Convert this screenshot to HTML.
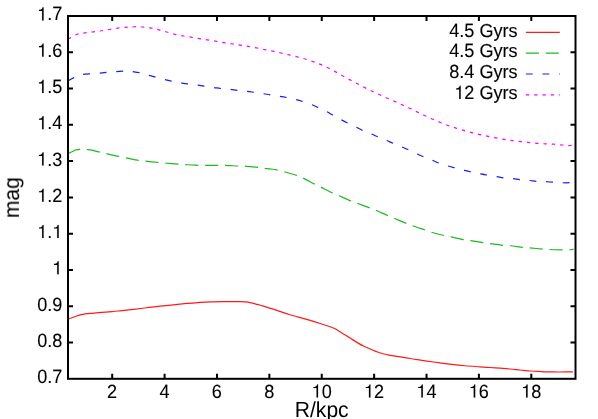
<!DOCTYPE html>
<html><head><meta charset="utf-8"><title>plot</title>
<style>
html,body{margin:0;padding:0;background:#fff;}
body{width:598px;height:419px;overflow:hidden;}
svg{display:block;}
text{font-family:"Liberation Sans",sans-serif;fill:#000;text-rendering:geometricPrecision;}
tspan.h{fill:none;stroke:none;}
</style></head><body>
<svg width="598" height="419" viewBox="0 0 598 419">
<defs><mask id="m" maskUnits="userSpaceOnUse" x="0" y="0" width="598" height="419"><rect x="0" y="0" width="598" height="419" fill="#fff"/></mask></defs>
<rect x="0" y="0" width="598" height="419" fill="#fff"/>
<g fill="none" stroke-width="1.2" stroke-linecap="butt" stroke-linejoin="round">
<path d="M68.00,319.10 C69.33,318.63 73.67,317.08 76.00,316.30 C78.33,315.52 80.50,314.84 82.00,314.45 C83.50,314.06 83.33,314.14 85.00,313.95 C86.67,313.76 89.17,313.55 92.00,313.30 C94.83,313.05 98.63,312.73 102.00,312.45 C105.37,312.17 109.20,311.88 112.20,311.60 C115.20,311.33 116.47,311.18 120.00,310.80 C123.53,310.43 128.94,309.86 133.40,309.35 C137.86,308.84 142.30,308.28 146.75,307.75 C151.20,307.22 155.64,306.64 160.10,306.15 C164.56,305.66 169.03,305.25 173.50,304.80 C177.97,304.35 182.48,303.87 186.90,303.45 C191.32,303.03 196.15,302.55 200.00,302.30 C203.85,302.05 206.55,302.07 210.00,301.95 C213.45,301.83 215.57,301.66 220.70,301.60 C225.83,301.54 236.58,301.54 240.80,301.60 C245.02,301.66 244.45,301.77 246.00,301.95 C247.55,302.12 248.43,302.29 250.10,302.65 C251.77,303.01 253.77,303.52 256.00,304.10 C258.23,304.68 260.02,305.10 263.50,306.15 C266.98,307.20 272.48,308.97 276.90,310.40 C281.32,311.82 285.02,313.19 290.00,314.70 C294.98,316.21 301.78,317.98 306.80,319.45 C311.82,320.92 315.65,322.07 320.10,323.50 C324.55,324.93 330.60,326.89 333.50,328.00 C336.40,329.11 335.27,328.82 337.50,330.15 C339.73,331.48 344.82,334.69 346.90,336.00 C348.98,337.31 347.25,336.32 350.00,338.00 C352.75,339.68 358.93,343.77 363.40,346.05 C367.87,348.33 373.37,350.38 376.80,351.70 C380.23,353.02 382.00,353.43 384.00,354.00 C386.00,354.57 387.13,354.82 388.80,355.15 C390.47,355.47 391.55,355.59 394.00,355.95 C396.45,356.31 399.68,356.68 403.50,357.30 C407.32,357.93 413.32,359.12 416.90,359.70 C420.48,360.28 421.42,360.31 425.00,360.80 C428.58,361.29 433.94,362.05 438.40,362.65 C442.86,363.25 447.30,363.88 451.75,364.40 C456.20,364.92 460.39,365.35 465.10,365.75 C469.81,366.15 475.85,366.51 480.00,366.80 C484.15,367.09 486.65,367.27 490.00,367.50 C493.35,367.73 496.75,367.95 500.10,368.20 C503.45,368.45 506.77,368.70 510.10,369.00 C513.43,369.30 516.75,369.67 520.10,370.00 C523.45,370.33 526.88,370.75 530.20,371.00 C533.52,371.25 536.12,371.34 540.00,371.50 C543.88,371.66 549.02,371.88 553.50,371.95 C557.98,372.02 563.67,371.97 566.90,371.95 C570.13,371.93 571.90,371.82 572.90,371.80" stroke="#ff1a1a"/>
<path d="M68.00,153.70 C68.67,153.37 70.75,152.32 72.00,151.70 C73.25,151.08 74.58,150.36 75.50,150.00 C76.42,149.64 76.73,149.67 77.50,149.55 C78.27,149.43 79.18,149.37 80.10,149.30 C81.02,149.23 81.88,149.12 83.00,149.15 C84.12,149.18 85.62,149.38 86.80,149.50 C87.98,149.62 87.92,149.47 90.10,149.90 C92.28,150.33 97.23,151.48 99.90,152.10 C102.57,152.72 103.58,153.01 106.10,153.60 C108.62,154.19 112.85,155.17 115.00,155.65 C117.15,156.13 117.22,156.14 119.00,156.50 C120.78,156.86 122.40,157.13 125.70,157.80 C129.00,158.47 135.52,159.94 138.80,160.50 C142.08,161.06 142.08,160.82 145.40,161.15 C148.72,161.48 155.45,162.19 158.75,162.50 C162.05,162.81 161.97,162.72 165.20,163.00 C168.43,163.28 174.88,163.93 178.15,164.20 C181.42,164.47 181.99,164.43 184.80,164.60 C187.61,164.77 191.63,165.06 195.00,165.20 C198.37,165.34 201.15,165.41 205.00,165.45 C208.85,165.49 214.76,165.45 218.10,165.45 C221.44,165.45 221.75,165.36 225.05,165.45 C228.35,165.54 234.60,165.88 237.90,166.00 C241.20,166.12 241.53,165.93 244.85,166.15 C248.17,166.38 254.50,166.99 257.80,167.35 C261.10,167.71 262.62,168.04 264.65,168.30 C266.68,168.56 267.81,168.60 270.00,168.90 C272.19,169.20 275.46,169.63 277.80,170.10 C280.14,170.57 280.89,170.81 284.05,171.70 C287.21,172.59 293.56,174.38 296.75,175.45 C299.94,176.52 300.19,176.70 303.20,178.15 C306.21,179.60 311.87,182.66 314.80,184.15 C317.73,185.64 317.78,185.58 320.80,187.10 C323.82,188.62 329.90,191.82 332.90,193.25 C335.90,194.68 335.77,194.35 338.80,195.65 C341.83,196.95 348.00,199.79 351.05,201.05 C354.10,202.31 353.93,202.04 357.10,203.20 C360.27,204.36 366.93,206.84 370.05,208.00 C373.17,209.16 372.79,208.85 375.80,210.15 C378.81,211.45 385.05,214.46 388.10,215.80 C391.15,217.14 391.03,216.92 394.10,218.20 C397.17,219.47 403.42,222.18 406.50,223.45 C409.58,224.72 409.51,224.70 412.60,225.80 C415.69,226.90 421.93,228.98 425.05,230.05 C428.18,231.12 428.16,231.28 431.35,232.20 C434.54,233.12 440.90,234.77 444.20,235.55 C447.50,236.33 447.88,236.21 451.15,236.90 C454.42,237.59 460.62,239.07 463.85,239.70 C467.08,240.32 467.25,240.14 470.55,240.65 C473.85,241.16 480.38,242.24 483.65,242.75 C486.92,243.26 486.99,243.27 490.20,243.70 C493.41,244.12 499.60,244.96 502.90,245.30 C506.20,245.64 506.65,245.41 510.00,245.75 C513.35,246.09 519.70,246.99 523.00,247.35 C526.30,247.71 526.50,247.61 529.80,247.90 C533.10,248.19 539.47,248.83 542.80,249.10 C546.12,249.37 546.45,249.37 549.75,249.50 C553.05,249.63 559.34,249.86 562.60,249.90 C565.86,249.94 567.47,249.84 569.30,249.75 C571.13,249.66 572.88,249.42 573.60,249.35" stroke="#1fb91f" stroke-dasharray="13.100 6.820"/>
<path d="M68.00,80.85 C69.00,80.31 72.40,78.46 74.00,77.60 C75.60,76.74 76.68,76.12 77.60,75.70 C78.52,75.28 78.62,75.32 79.50,75.10 C80.38,74.88 81.15,74.62 82.90,74.40 C84.65,74.18 87.32,73.97 90.00,73.75 C92.68,73.53 96.33,73.32 99.00,73.10 C101.67,72.88 103.17,72.71 106.00,72.45 C108.83,72.19 113.20,71.77 116.00,71.55 C118.80,71.33 120.88,71.23 122.80,71.15 C124.72,71.08 125.87,71.02 127.50,71.10 C129.13,71.18 130.63,71.39 132.60,71.65 C134.57,71.91 136.58,72.03 139.30,72.65 C142.02,73.27 146.27,74.65 148.90,75.35 C151.53,76.05 152.43,76.13 155.10,76.85 C157.77,77.57 162.23,78.93 164.95,79.65 C167.67,80.37 168.71,80.61 171.40,81.15 C174.09,81.69 178.37,82.43 181.10,82.90 C183.83,83.37 185.07,83.60 187.80,83.95 C190.53,84.30 194.78,84.62 197.50,85.00 C200.22,85.38 201.37,85.78 204.10,86.20 C206.83,86.62 211.10,87.17 213.90,87.55 C216.70,87.93 218.18,88.19 220.90,88.50 C223.62,88.81 227.48,89.10 230.20,89.40 C232.92,89.70 234.41,89.98 237.20,90.30 C239.99,90.62 244.18,90.97 246.95,91.30 C249.72,91.62 251.06,91.85 253.80,92.25 C256.54,92.65 260.68,93.28 263.40,93.70 C266.12,94.12 267.35,94.37 270.10,94.80 C272.85,95.23 277.16,95.85 279.90,96.30 C282.64,96.75 283.83,96.95 286.55,97.50 C289.27,98.05 293.52,98.93 296.20,99.60 C298.88,100.27 299.97,100.63 302.60,101.50 C305.23,102.37 309.43,103.82 312.00,104.80 C314.57,105.78 315.53,106.26 318.00,107.40 C320.47,108.54 324.33,110.37 326.80,111.65 C329.27,112.93 330.38,113.74 332.80,115.10 C335.23,116.46 338.90,118.48 341.35,119.80 C343.80,121.12 345.02,121.78 347.50,123.00 C349.98,124.22 353.70,125.92 356.20,127.15 C358.70,128.38 360.00,129.28 362.50,130.40 C365.00,131.52 368.63,132.78 371.20,133.85 C373.77,134.92 375.32,135.75 377.90,136.85 C380.48,137.95 384.18,139.38 386.70,140.45 C389.22,141.52 390.48,142.18 393.00,143.25 C395.52,144.32 399.23,145.76 401.80,146.85 C404.37,147.94 405.90,148.64 408.40,149.80 C410.90,150.96 414.28,152.64 416.80,153.80 C419.32,154.96 420.93,155.70 423.50,156.75 C426.07,157.80 429.63,159.05 432.20,160.10 C434.77,161.15 436.27,162.07 438.90,163.05 C441.53,164.03 445.37,165.21 448.00,166.00 C450.63,166.79 452.02,167.10 454.70,167.80 C457.38,168.50 461.42,169.53 464.10,170.20 C466.78,170.87 468.08,171.20 470.80,171.80 C473.52,172.40 477.73,173.27 480.40,173.80 C483.07,174.33 484.06,174.53 486.80,175.00 C489.54,175.47 494.07,176.13 496.85,176.60 C499.63,177.07 500.78,177.46 503.50,177.80 C506.22,178.14 510.40,178.35 513.15,178.65 C515.90,178.95 517.23,179.29 520.00,179.60 C522.77,179.91 527.01,180.20 529.80,180.50 C532.59,180.80 534.03,181.20 536.75,181.40 C539.47,181.60 543.38,181.57 546.10,181.70 C548.83,181.83 550.31,182.02 553.10,182.20 C555.89,182.38 560.12,182.67 562.85,182.75 C565.58,182.83 567.89,182.76 569.50,182.70 C571.11,182.64 572.00,182.45 572.50,182.40" stroke="#1a1aff" stroke-dasharray="6.900 9.700"/>
<path d="M68.00,39.00 C68.67,38.65 70.67,37.60 72.00,36.90 C73.33,36.20 74.92,35.32 76.00,34.80 C77.08,34.28 77.35,34.08 78.50,33.80 C79.65,33.52 80.80,33.38 82.90,33.10 C85.00,32.82 88.40,32.43 91.10,32.10 C93.80,31.77 96.43,31.47 99.10,31.10 C101.77,30.73 104.33,30.33 107.10,29.90 C109.87,29.47 113.68,28.83 115.70,28.50 C117.72,28.17 117.82,28.07 119.20,27.90 C120.58,27.73 122.60,27.63 124.00,27.50 C125.40,27.37 126.25,27.21 127.60,27.10 C128.95,26.99 130.53,26.93 132.10,26.85 C133.67,26.77 135.63,26.62 137.00,26.60 C138.37,26.58 139.12,26.62 140.30,26.70 C141.48,26.78 142.48,26.90 144.10,27.10 C145.72,27.30 148.18,27.62 150.00,27.90 C151.82,28.18 153.33,28.43 155.00,28.80 C156.67,29.17 158.05,29.57 160.00,30.10 C161.95,30.63 164.25,31.30 166.70,32.00 C169.15,32.70 172.03,33.65 174.70,34.30 C177.37,34.95 179.98,35.42 182.70,35.90 C185.42,36.38 188.27,36.76 191.00,37.20 C193.73,37.64 196.40,38.10 199.10,38.55 C201.80,39.00 204.47,39.46 207.20,39.90 C209.93,40.34 212.73,40.76 215.50,41.20 C218.27,41.64 221.08,42.12 223.80,42.55 C226.52,42.97 229.10,43.33 231.80,43.75 C234.50,44.17 237.25,44.60 240.00,45.05 C242.75,45.50 245.56,45.98 248.30,46.45 C251.04,46.93 253.73,47.38 256.45,47.90 C259.17,48.42 261.88,49.05 264.60,49.60 C267.33,50.15 270.08,50.63 272.80,51.20 C275.52,51.77 278.20,52.38 280.90,53.00 C283.60,53.62 286.30,54.27 289.00,54.90 C291.70,55.53 294.41,56.12 297.10,56.80 C299.79,57.48 302.50,58.20 305.15,59.00 C307.80,59.80 310.44,60.70 313.00,61.60 C315.56,62.50 317.95,63.33 320.50,64.40 C323.05,65.47 325.78,66.76 328.30,68.00 C330.82,69.24 333.22,70.53 335.65,71.85 C338.08,73.17 340.49,74.56 342.90,75.90 C345.31,77.24 347.67,78.59 350.10,79.90 C352.53,81.21 355.05,82.46 357.50,83.75 C359.95,85.04 362.35,86.40 364.80,87.65 C367.25,88.90 369.70,90.08 372.20,91.25 C374.70,92.42 377.27,93.53 379.80,94.70 C382.33,95.88 384.85,97.15 387.40,98.30 C389.95,99.45 392.57,100.48 395.10,101.60 C397.63,102.72 400.08,103.85 402.60,105.00 C405.12,106.15 407.72,107.32 410.20,108.50 C412.68,109.68 415.03,110.90 417.50,112.10 C419.97,113.30 422.47,114.52 425.00,115.70 C427.53,116.88 430.15,118.07 432.70,119.20 C435.25,120.33 437.75,121.46 440.30,122.50 C442.85,123.54 445.50,124.55 448.00,125.45 C450.50,126.35 452.67,127.07 455.30,127.90 C457.93,128.73 461.05,129.65 463.80,130.45 C466.55,131.25 469.13,132.01 471.80,132.70 C474.47,133.39 477.10,133.99 479.80,134.60 C482.50,135.21 485.27,135.79 488.00,136.35 C490.73,136.91 493.43,137.44 496.15,137.95 C498.87,138.46 501.56,138.96 504.30,139.40 C507.04,139.84 509.85,140.23 512.60,140.60 C515.35,140.97 518.08,141.28 520.80,141.60 C523.52,141.92 526.17,142.22 528.90,142.50 C531.63,142.78 534.43,143.08 537.20,143.30 C539.97,143.53 542.73,143.70 545.50,143.85 C548.27,144.00 551.03,144.01 553.80,144.20 C556.57,144.39 559.65,144.77 562.10,145.00 C564.55,145.23 566.77,145.58 568.50,145.60 C570.23,145.62 571.83,145.18 572.50,145.10" stroke="#ff00ff" stroke-dasharray="3.400 4.889"/>
<path d="M525.85,32.4 H559.75" stroke="#ff1a1a"/>
<path d="M525.85,53.2 H559.75" stroke="#1fb91f" stroke-dasharray="13.100 6.820"/>
<path d="M525.85,74.0 H559.75" stroke="#1a1aff" stroke-dasharray="6.900 9.700"/>
<path d="M525.85,94.8 H559.75" stroke="#ff00ff" stroke-dasharray="3.400 4.889"/>
</g>
<g fill="none" stroke="#000" stroke-width="2" stroke-linecap="butt" stroke-linejoin="miter">
<rect x="68.0" y="16.0" width="507.5" height="362.8"/>
<path d="M112.20,378.80 v-5.00 M112.20,16.00 v5.00 M164.59,378.80 v-5.00 M164.59,16.00 v5.00 M216.98,378.80 v-5.00 M216.98,16.00 v5.00 M269.36,378.80 v-5.00 M269.36,16.00 v5.00 M321.75,378.80 v-5.00 M321.75,16.00 v5.00 M374.14,378.80 v-5.00 M374.14,16.00 v5.00 M426.52,378.80 v-5.00 M426.52,16.00 v5.00 M478.91,378.80 v-5.00 M478.91,16.00 v5.00 M531.30,378.80 v-5.00 M531.30,16.00 v5.00 M68.00,342.52 h5.00 M575.50,342.52 h-5.00 M68.00,306.24 h5.00 M575.50,306.24 h-5.00 M68.00,269.96 h5.00 M575.50,269.96 h-5.00 M68.00,233.68 h5.00 M575.50,233.68 h-5.00 M68.00,197.40 h5.00 M575.50,197.40 h-5.00 M68.00,161.12 h5.00 M575.50,161.12 h-5.00 M68.00,124.84 h5.00 M575.50,124.84 h-5.00 M68.00,88.56 h5.00 M575.50,88.56 h-5.00 M68.00,52.28 h5.00 M575.50,52.28 h-5.00"/>
</g>
<g font-size="18.1px" mask="url(#m)" stroke="#000" stroke-width="0.1" stroke-linejoin="round">
<g transform="translate(0,397.60) scale(1,1.035)"><text transform="scale(1,1.022)" x="107.07" y="0">2</text></g>
<g transform="translate(0,397.60) scale(1,1.035)"><text transform="scale(1,1.022)" x="159.46" y="0">4</text></g>
<g transform="translate(0,397.60) scale(1,1.035)"><text transform="scale(1,1.022)" x="211.84" y="0">6</text></g>
<g transform="translate(0,397.60) scale(1,1.035)"><text transform="scale(1,1.022)" x="264.23" y="0">8</text></g>
<g transform="translate(0,397.60) scale(1,1.035)"><text transform="scale(1,1.022)" x="311.58 321.65" y="0"><tspan class="h">1</tspan>0</text><path stroke-width="5.5" transform="translate(311.58,0) scale(0.01810,-0.01810)" d="M358,0H274V506H102V566C210,566 286,610 304,703H358Z"/></g>
<g transform="translate(0,397.60) scale(1,1.035)"><text transform="scale(1,1.022)" x="363.97 374.04" y="0"><tspan class="h">1</tspan>2</text><path stroke-width="5.5" transform="translate(363.97,0) scale(0.01810,-0.01810)" d="M358,0H274V506H102V566C210,566 286,610 304,703H358Z"/></g>
<g transform="translate(0,397.60) scale(1,1.035)"><text transform="scale(1,1.022)" x="416.36 426.42" y="0"><tspan class="h">1</tspan>4</text><path stroke-width="5.5" transform="translate(416.36,0) scale(0.01810,-0.01810)" d="M358,0H274V506H102V566C210,566 286,610 304,703H358Z"/></g>
<g transform="translate(0,397.60) scale(1,1.035)"><text transform="scale(1,1.022)" x="468.74 478.81" y="0"><tspan class="h">1</tspan>6</text><path stroke-width="5.5" transform="translate(468.74,0) scale(0.01810,-0.01810)" d="M358,0H274V506H102V566C210,566 286,610 304,703H358Z"/></g>
<g transform="translate(0,397.60) scale(1,1.035)"><text transform="scale(1,1.022)" x="521.13 531.20" y="0"><tspan class="h">1</tspan>8</text><path stroke-width="5.5" transform="translate(521.13,0) scale(0.01810,-0.01810)" d="M358,0H274V506H102V566C210,566 286,610 304,703H358Z"/></g>
<g transform="translate(0,383.20) scale(1,1.035)"><text transform="scale(1,1.022)" x="37.14 47.20 52.23" y="0">0.7</text></g>
<g transform="translate(0,346.92) scale(1,1.035)"><text transform="scale(1,1.022)" x="37.14 47.20 52.23" y="0">0.8</text></g>
<g transform="translate(0,310.64) scale(1,1.035)"><text transform="scale(1,1.022)" x="37.14 47.20 52.23" y="0">0.9</text></g>
<g transform="translate(0,274.36) scale(1,1.035)"><text transform="scale(1,1.022)" x="52.23" y="0"><tspan class="h">1</tspan></text><path stroke-width="5.5" transform="translate(52.23,0) scale(0.01810,-0.01810)" d="M358,0H274V506H102V566C210,566 286,610 304,703H358Z"/></g>
<g transform="translate(0,238.08) scale(1,1.035)"><text transform="scale(1,1.022)" x="37.14 47.20 52.23" y="0"><tspan class="h">1</tspan>.<tspan class="h">1</tspan></text><path stroke-width="5.5" transform="translate(37.14,0) scale(0.01810,-0.01810)" d="M358,0H274V506H102V566C210,566 286,610 304,703H358Z"/><path stroke-width="5.5" transform="translate(52.23,0) scale(0.01810,-0.01810)" d="M358,0H274V506H102V566C210,566 286,610 304,703H358Z"/></g>
<g transform="translate(0,201.80) scale(1,1.035)"><text transform="scale(1,1.022)" x="37.14 47.20 52.23" y="0"><tspan class="h">1</tspan>.2</text><path stroke-width="5.5" transform="translate(37.14,0) scale(0.01810,-0.01810)" d="M358,0H274V506H102V566C210,566 286,610 304,703H358Z"/></g>
<g transform="translate(0,165.52) scale(1,1.035)"><text transform="scale(1,1.022)" x="37.14 47.20 52.23" y="0"><tspan class="h">1</tspan>.3</text><path stroke-width="5.5" transform="translate(37.14,0) scale(0.01810,-0.01810)" d="M358,0H274V506H102V566C210,566 286,610 304,703H358Z"/></g>
<g transform="translate(0,129.24) scale(1,1.035)"><text transform="scale(1,1.022)" x="37.14 47.20 52.23" y="0"><tspan class="h">1</tspan>.4</text><path stroke-width="5.5" transform="translate(37.14,0) scale(0.01810,-0.01810)" d="M358,0H274V506H102V566C210,566 286,610 304,703H358Z"/></g>
<g transform="translate(0,92.96) scale(1,1.035)"><text transform="scale(1,1.022)" x="37.14 47.20 52.23" y="0"><tspan class="h">1</tspan>.5</text><path stroke-width="5.5" transform="translate(37.14,0) scale(0.01810,-0.01810)" d="M358,0H274V506H102V566C210,566 286,610 304,703H358Z"/></g>
<g transform="translate(0,56.68) scale(1,1.035)"><text transform="scale(1,1.022)" x="37.14 47.20 52.23" y="0"><tspan class="h">1</tspan>.6</text><path stroke-width="5.5" transform="translate(37.14,0) scale(0.01810,-0.01810)" d="M358,0H274V506H102V566C210,566 286,610 304,703H358Z"/></g>
<g transform="translate(0,20.40) scale(1,1.035)"><text transform="scale(1,1.022)" x="37.14 47.20 52.23" y="0"><tspan class="h">1</tspan>.7</text><path stroke-width="5.5" transform="translate(37.14,0) scale(0.01810,-0.01810)" d="M358,0H274V506H102V566C210,566 286,610 304,703H358Z"/></g>
<g transform="translate(0,36.60) scale(1,1.035)"><text transform="scale(1,1.022)" x="449.20 459.27 464.30" y="0">4.5</text><text x="479.39 493.47 502.52 508.55" y="0">Gyrs</text></g>
<g transform="translate(0,57.40) scale(1,1.035)"><text transform="scale(1,1.022)" x="449.20 459.27 464.30" y="0">4.5</text><text x="479.39 493.47 502.52 508.55" y="0">Gyrs</text></g>
<g transform="translate(0,78.20) scale(1,1.035)"><text transform="scale(1,1.022)" x="449.20 459.27 464.30" y="0">8.4</text><text x="479.39 493.47 502.52 508.55" y="0">Gyrs</text></g>
<g transform="translate(0,99.00) scale(1,1.035)"><text transform="scale(1,1.022)" x="454.23 464.30" y="0"><tspan class="h">1</tspan>2</text><text x="479.39 493.47 502.52 508.55" y="0">Gyrs</text><path stroke-width="5.5" transform="translate(454.23,0) scale(0.01810,-0.01810)" d="M358,0H274V506H102V566C210,566 286,610 304,703H358Z"/></g>
</g>
<g font-size="21.1px" mask="url(#m)" stroke="#000" stroke-width="0" stroke-linejoin="round">
<text transform="translate(321.7,417.4) scale(1,1.035)" text-anchor="middle">R/kpc</text>
<text transform="translate(18.55,197.6) rotate(-90) scale(1,1.035)" text-anchor="middle">mag</text>
</g>
</svg>
</body></html>
